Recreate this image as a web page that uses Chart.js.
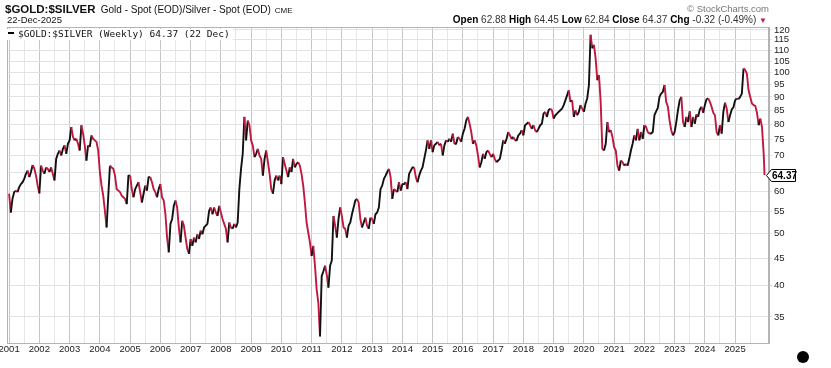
<!DOCTYPE html>
<html>
<head>
<meta charset="utf-8">
<script src="https://cdn.jsdelivr.net/npm/chart.js@4.4.1/dist/chart.umd.min.js"></script>
<style>
  body { margin: 0; background: #fff; }
  #wrap { position: relative; width: 831px; height: 368px; overflow: hidden; font-family: 'Liberation Sans', Arial, sans-serif; }
  #wrap canvas { position: absolute; left: 0; top: 0; }
  .t { position: absolute; white-space: nowrap; line-height: 1; color: #111; }
  #title { left: 5px; top: 4px; font-size: 11.5px; }
  #title .sub { font-size: 10px; margin-left: 2px; }
  #title .exch { font-size: 8px; margin-left: 4px; }
  #date { left: 7px; top: 15px; font-size: 9.5px; }
  #copy { right: 62px; top: 4px; font-size: 9.5px; color: #777; }
  #ohlc { right: 64px; top: 15px; font-size: 10px; color: #333; }
  #ohlc b { color: #000; }
  #ohlc .dn { color: #c0183f; font-size: 8px; }
  #legend { left: 7px; top: 29px; font-family: 'DejaVu Sans Mono', monospace; font-size: 9.5px; background: #fff; padding: 0 3px 1px 1px; }
  #legend .dash { display: inline-block; width: 6px; height: 2px; background: #000; vertical-align: 3px; margin-right: 4px; }
  #dot { position: absolute; left: 797px; top: 351px; width: 12px; height: 12px; border-radius: 50%; background: #000; }
</style>
</head>
<body>
<div id="wrap">
  <canvas id="ratioChart" width="831" height="368"></canvas>
  <div class="t" id="title"><b>$GOLD:$SILVER</b> <span class="sub">Gold - Spot (EOD)/Silver - Spot (EOD)</span><span class="exch">CME</span></div>
  <div class="t" id="date">22-Dec-2025</div>
  <div class="t" id="copy">&copy; StockCharts.com</div>
  <div class="t" id="ohlc"><b>Open</b> 62.88 <b>High</b> 64.45 <b>Low</b> 62.84 <b>Close</b> 64.37 <b>Chg</b> -0.32 (-0.49%) <span class="dn">&#9660;</span></div>
  <div class="t" id="legend"><span class="dash"></span>$GOLD:$SILVER (Weekly) 64.37 (22 Dec)</div>
  <div id="dot"></div>
</div>
<script>
// Gold/silver ratio, ~18 readings per year (roughly every 3 weeks)
const r2001 = [59.4, 54.8, 58.1, 59.8, 60.2, 59.8, 61.1, 61.9, 62.4, 63.3, 64.7, 65.6, 63.8, 65.2, 67.2, 66.2, 64.2, 61.5];
const r2002 = [59.5, 67.0, 65.6, 64.7, 66.5, 66.1, 65.2, 66.5, 64.7, 62.9, 69.0, 70.5, 71.5, 70.0, 72.0, 73.1, 70.5, 73.6];
const r2003 = [74.7, 79.1, 75.8, 74.7, 75.2, 73.6, 71.5, 79.7, 76.9, 73.1, 68.5, 73.1, 72.6, 76.3, 75.2, 74.7, 74.2, 71.5];
const r2004 = [65.2, 61.5, 58.9, 55.2, 51.4, 58.9, 67.0, 66.5, 66.1, 64.2, 60.6, 60.2, 59.8, 58.9, 58.5, 58.1, 56.8, 64.2];
const r2005 = [64.2, 60.6, 58.5, 60.6, 61.5, 62.4, 59.8, 57.2, 59.4, 61.5, 60.2, 63.8, 63.8, 62.4, 60.6, 59.8, 58.5, 60.6];
const r2006 = [61.9, 58.5, 57.7, 54.4, 49.2, 46.2, 52.2, 53.3, 56.4, 57.7, 56.0, 51.4, 48.2, 52.9, 51.8, 49.2, 46.9, 45.9];
const r2007 = [48.9, 47.5, 49.2, 48.2, 49.9, 48.9, 50.7, 49.9, 51.4, 51.8, 52.2, 55.2, 56.0, 54.4, 56.0, 54.8, 54.0, 56.4];
const r2008 = [54.8, 53.3, 52.2, 51.1, 48.2, 52.5, 51.4, 51.1, 52.2, 51.4, 52.5, 60.6, 66.1, 70.5, 82.6, 74.7, 81.3, 79.7];
const r2009 = [74.7, 73.1, 69.5, 70.5, 72.0, 70.0, 69.0, 64.2, 69.0, 71.5, 68.0, 64.7, 60.6, 59.4, 62.9, 64.2, 62.9, 64.2];
const r2010 = [61.9, 69.5, 67.5, 65.6, 63.8, 66.5, 65.2, 69.0, 66.5, 67.5, 68.0, 67.0, 64.7, 61.5, 57.2, 52.5, 50.3, 48.2];
const r2011 = [45.5, 47.5, 43.6, 39.4, 37.2, 32.2, 41.7, 42.6, 43.6, 42.0, 39.7, 43.6, 44.6, 54.0, 51.8, 49.2, 53.3, 56.0];
const r2012 = [54.0, 51.4, 51.1, 49.2, 51.8, 52.5, 54.4, 56.0, 57.7, 58.1, 57.2, 53.3, 51.4, 52.5, 53.6, 51.8, 51.1, 53.6];
const r2013 = [53.3, 52.2, 54.4, 54.8, 56.0, 60.6, 61.5, 63.3, 64.2, 65.2, 66.1, 63.8, 58.1, 60.6, 60.2, 59.8, 62.4, 60.2];
const r2014 = [61.9, 61.9, 62.4, 60.6, 64.7, 65.6, 66.5, 66.5, 63.8, 62.4, 64.2, 65.6, 66.5, 69.0, 71.5, 74.7, 72.0, 74.7];
const r2015 = [71.0, 73.1, 73.6, 74.2, 73.1, 73.6, 70.0, 73.1, 74.7, 74.2, 75.2, 74.2, 76.9, 73.6, 73.6, 75.8, 75.2, 74.2];
const r2016 = [76.9, 78.5, 81.3, 82.6, 80.2, 77.4, 73.6, 74.7, 73.1, 70.0, 66.5, 68.0, 70.5, 69.0, 71.0, 71.5, 70.5, 69.5];
const r2017 = [70.5, 69.0, 68.0, 68.5, 69.0, 71.5, 74.7, 73.6, 75.2, 77.4, 76.3, 75.2, 75.8, 74.7, 74.7, 76.3, 76.9, 78.0];
const r2018 = [76.3, 79.7, 80.2, 80.8, 79.7, 78.5, 79.7, 78.0, 77.4, 78.5, 79.7, 80.2, 83.8, 84.4, 82.6, 85.0, 85.6, 85.0];
const r2019 = [82.0, 83.2, 83.8, 84.4, 85.0, 85.6, 86.9, 88.7, 90.6, 92.6, 88.1, 88.7, 82.6, 85.0, 83.2, 84.4, 86.9, 85.6];
const r2020 = [84.4, 87.5, 89.4, 94.7, 117.5, 110.9, 112.5, 106.2, 96.7, 98.8, 88.1, 72.0, 71.5, 73.6, 80.8, 77.4, 78.0, 75.8];
const r2021 = [72.6, 71.5, 67.0, 65.6, 68.5, 68.0, 67.0, 67.5, 67.0, 69.0, 71.5, 73.6, 76.3, 74.7, 78.5, 74.7, 77.4, 75.2];
const r2022 = [79.7, 79.1, 77.4, 76.9, 76.9, 77.4, 83.2, 84.6, 85.9, 90.0, 91.3, 92.0, 94.7, 88.1, 86.3, 81.3, 78.0, 76.3];
const r2023 = [77.4, 80.8, 85.0, 88.7, 90.0, 80.8, 79.1, 82.6, 80.8, 84.6, 79.1, 82.6, 80.2, 83.5, 82.6, 85.3, 86.3, 84.1];
const r2024 = [86.9, 89.1, 89.4, 88.1, 86.3, 84.1, 83.2, 77.4, 76.3, 79.7, 76.9, 84.4, 87.8, 85.6, 80.8, 83.2, 85.3, 86.1];
const r2025 = [88.7, 89.4, 89.1, 90.0, 91.3, 101.7, 101.0, 99.5, 92.6, 90.0, 87.5, 86.9, 86.6, 84.1, 79.7, 82.0, 79.1, 70.5];

const years = [2001, 2002, 2003, 2004, 2005, 2006, 2007, 2008, 2009, 2010, 2011, 2012, 2013,
               2014, 2015, 2016, 2017, 2018, 2019, 2020, 2021, 2022, 2023, 2024, 2025];
const series = [r2001, r2002, r2003, r2004, r2005, r2006, r2007, r2008, r2009, r2010, r2011, r2012, r2013,
                r2014, r2015, r2016, r2017, r2018, r2019, r2020, r2021, r2022, r2023, r2024, r2025];

// last weekly close (22 Dec 2025)
const lastDate = 2025 + 355 / 365;
const lastClose = 64.37;

const yTicks = [35, 40, 45, 50, 55, 60, 65, 70, 75, 80, 85, 90, 95, 100, 105, 110, 115, 120];
const hiddenYLabels = [65]; // covered by the price tag

const UP = '#111111';
const DOWN = '#c0183f';

// build points
const points = [];
series.forEach((vals, i) => {
    vals.forEach((v, k) => points.push({ x: years[i] + k / vals.length, y: v }));
});
points.push({ x: lastDate, y: lastClose });

// plot frame
const framePlugin = {
    id: 'frame',
    beforeDatasetsDraw(chart) {
        const { ctx, chartArea: a } = chart;
        ctx.save();
        ctx.strokeStyle = '#b4b4b4';
        ctx.lineWidth = 1;
        ctx.strokeRect(a.left + 0.5, a.top + 0.5, a.right - a.left - 1, a.bottom - a.top);
        ctx.restore();
    }
};

// current value tag on the right axis
const priceTag = {
    id: 'priceTag',
    afterDraw(chart) {
        const { ctx, chartArea, scales } = chart;
        const y = Math.round(scales.y.getPixelForValue(lastClose)) + 0.5;
        const x = chartArea.right - 2.5;
        ctx.save();
        ctx.beginPath();
        ctx.moveTo(x, y);
        ctx.lineTo(x + 5, y - 6);
        ctx.lineTo(x + 29, y - 6);
        ctx.lineTo(x + 29, y + 6);
        ctx.lineTo(x + 5, y + 6);
        ctx.closePath();
        ctx.fillStyle = '#fff';
        ctx.fill();
        ctx.strokeStyle = '#000';
        ctx.lineWidth = 1;
        ctx.stroke();
        ctx.fillStyle = '#000';
        ctx.font = 'bold 10px "Liberation Sans", Arial, sans-serif';
        ctx.textBaseline = 'middle';
        ctx.fillText(lastClose.toFixed(2), x + 5.5, y + 0.5);
        ctx.restore();
    }
};

const ctx = document.getElementById('ratioChart').getContext('2d');
const ratioChart = new Chart(ctx, {
    type: 'line',
    data: {
        datasets: [{
            label: '$GOLD:$SILVER',
            data: points,
            borderColor: DOWN,
            borderWidth: 1.9,
            borderJoinStyle: 'round',
            pointRadius: 0,
            tension: 0,
            segment: {
                borderColor: c => c.p1.parsed.y >= c.p0.parsed.y ? UP : DOWN
            }
        }]
    },
    options: {
        responsive: false,
        animation: false,
        layout: { padding: { left: 7, top: 27, right: 0, bottom: 0 } },
        plugins: {
            legend: { display: false },
            tooltip: { enabled: false }
        },
        scales: {
            x: {
                type: 'linear',
                min: 2000.93,
                max: 2026.12,
                afterBuildTicks: scale => {
                    const ticks = [];
                    for (let v = years[0]; v <= years[years.length - 1] + 0.5; v += 0.5) ticks.push({ value: v });
                    scale.ticks = ticks;
                },
                afterFit: scale => {
                    scale.height = 25;
                    scale.paddingLeft = 0;
                    scale.paddingRight = 0;
                },
                ticks: {
                    autoSkip: false,
                    maxRotation: 0,
                    padding: 1,
                    color: '#222',
                    font: { family: "'Liberation Sans', Arial, sans-serif", size: 9.5 },
                    callback: v => years.includes(v) ? String(v) : ''
                },
                grid: {
                    drawTicks: false,
                    color: c => Number.isInteger(c.tick.value) ? '#c6c6c6' : '#e6e6e6'
                },
                border: { color: '#b4b4b4' }
            },
            y: {
                type: 'logarithmic',
                position: 'right',
                min: 31.3,
                max: 121.5,
                afterBuildTicks: scale => {
                    scale.ticks = yTicks.map(v => ({ value: v }));
                },
                afterFit: scale => {
                    scale.width = 62;
                    scale.paddingTop = 0;
                    scale.paddingBottom = 0;
                },
                ticks: {
                    padding: 2,
                    color: '#222',
                    font: { family: "'Liberation Sans', Arial, sans-serif", size: 9.5 },
                    callback: v => hiddenYLabels.includes(v) ? '' : String(v)
                },
                grid: {
                    color: '#e2e2e2',
                    tickLength: 3
                },
                border: { color: '#b4b4b4' }
            }
        }
    },
    plugins: [framePlugin, priceTag]
});
</script>
</body>
</html>
